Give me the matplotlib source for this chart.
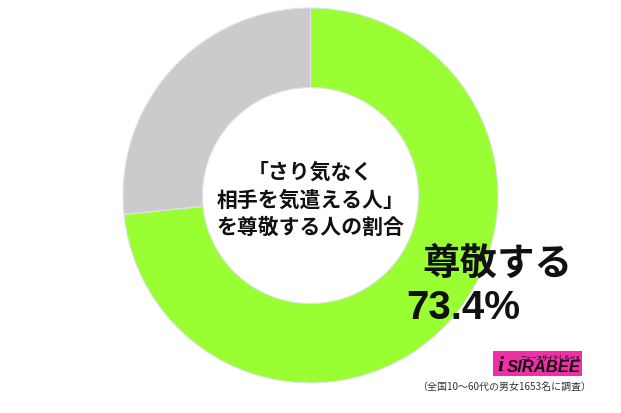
import matplotlib
matplotlib.use("Agg")
import matplotlib.pyplot as plt
from matplotlib.patches import Rectangle

labels = ["尊敬する", "尊敬しない"]
values = [73.4, 26.6]
colors = ["#99FF33", "#CCCACC"]
center_text = "「さり気なく\n相手を気遣える人」\nを尊敬する人の割合"
label_text = "尊敬する"
pct_text = "73.4%"
footnote = "（全国10〜60代の男女1653名に調査）"

W, H = 621, 414
fig = plt.figure(figsize=(W / 100, H / 100), dpi=100)
ax = fig.add_axes([0, 0, 1, 1])

cx, cy = 310.5, H - 196.5
R = 187.5
ax.pie(values, colors=colors, startangle=90, counterclock=False,
       center=(cx, cy), radius=R,
       wedgeprops=dict(width=R - 108, edgecolor="#E4E0EE", linewidth=0.8))
ax.set_xlim(0, W)
ax.set_ylim(0, H)
ax.set_aspect("equal")
ax.axis("off")

jp = ["Noto Sans CJK JP", "DejaVu Sans"]
ax.text(cx, H - 200, center_text, ha="center", va="center", fontsize=15,
        fontweight="bold", family=jp, linespacing=1.4, color="#111111")

ax.text(497, H - 263, label_text, ha="center", va="center", fontsize=27,
        fontweight="bold", family=jp, color="#111111")
ax.text(406, H - 308, pct_text, ha="left", va="center", fontsize=29,
        fontweight="bold", family=["Liberation Sans", "DejaVu Sans"], color="#111111")

# logo
ax.add_patch(Rectangle((493, H - 377), 89, 25, facecolor="#EE2FA6", edgecolor="none"))
ax.text(581, H - 357, "ニュースサイトしらべぇ", ha="right", va="center", fontsize=4,
        fontweight="bold", family=jp, color="#111111")
ax.text(581, H - 368, "SIRABEE", ha="right", va="center", fontsize=12,
        fontweight="bold", style="italic", family=["Liberation Sans", "DejaVu Sans"],
        color="#111111")
ax.text(500, H - 366, "i", ha="center", va="center", fontsize=16,
        fontweight="bold", style="italic", family=["Liberation Serif", "DejaVu Serif"],
        color="#111111")

ax.text(504, H - 387, footnote, ha="center", va="center", fontsize=7.2,
        family=jp, color="#333333")

fig.savefig("out.png", dpi=100)
